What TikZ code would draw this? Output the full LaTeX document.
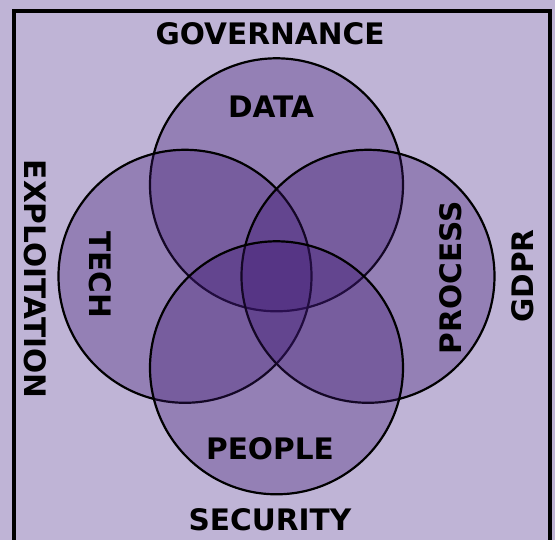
\documentclass[tikz,border=0pt]{standalone}
\usepackage{fontspec}
\setmainfont{DejaVu Sans}
\definecolor{lavbg}{RGB}{191,180,214}
\definecolor{vennpurple}{RGB}{61,23,114}
\tikzset{
  venn/.style={draw=black, line width=2.2pt, fill=vennpurple, fill opacity=0.33},
  word/.style={inner sep=0pt, font=\fontsize{29.6}{31}\selectfont\bfseries}
}
\begin{document}
\begin{tikzpicture}[x=1pt, y=-1pt]
                \fill[lavbg] (0,0) rectangle (555,540);
                \useasboundingbox (0,0) rectangle (555,540);
                \draw[line width=4pt] (14,560) -- (14,11) -- (549.5,11) -- (549.5,560);
                \coordinate (O) at (276.5,276.3);
                \coordinate (D) at (276.5,184.8);
                \coordinate (T) at (185,276.3);
                \coordinate (P) at (368,276.3);
                \coordinate (E) at (276.5,367.8);
                \draw[venn] (D) circle (126.5);
                \draw[venn] (T) circle (126.5);
                \draw[venn] (P) circle (126.5);
                \draw[venn] (E) circle (126.5);
                % circle labels
                \node[word] (data) at (271,106.7) {DATA};
                \node[word, rotate=-90] (tech) at (100,275) {TECH};
                \node[word, rotate=90] (process) at (450.5,277.7) {PROCESS};
                \node[word] (people) at (270,448.5) {PEOPLE};
                % outer labels
                \node[word] (governance) at (270,34) {GOVERNANCE};
                \node[word, rotate=-90] (exploitation) at (35,279) {EXPLOITATION};
                \node[word, rotate=90] (gdpr) at (523,276) {GDPR};
                \node[word] (security) at (270,520) {SECURITY};
            \end{tikzpicture}
\end{document}
